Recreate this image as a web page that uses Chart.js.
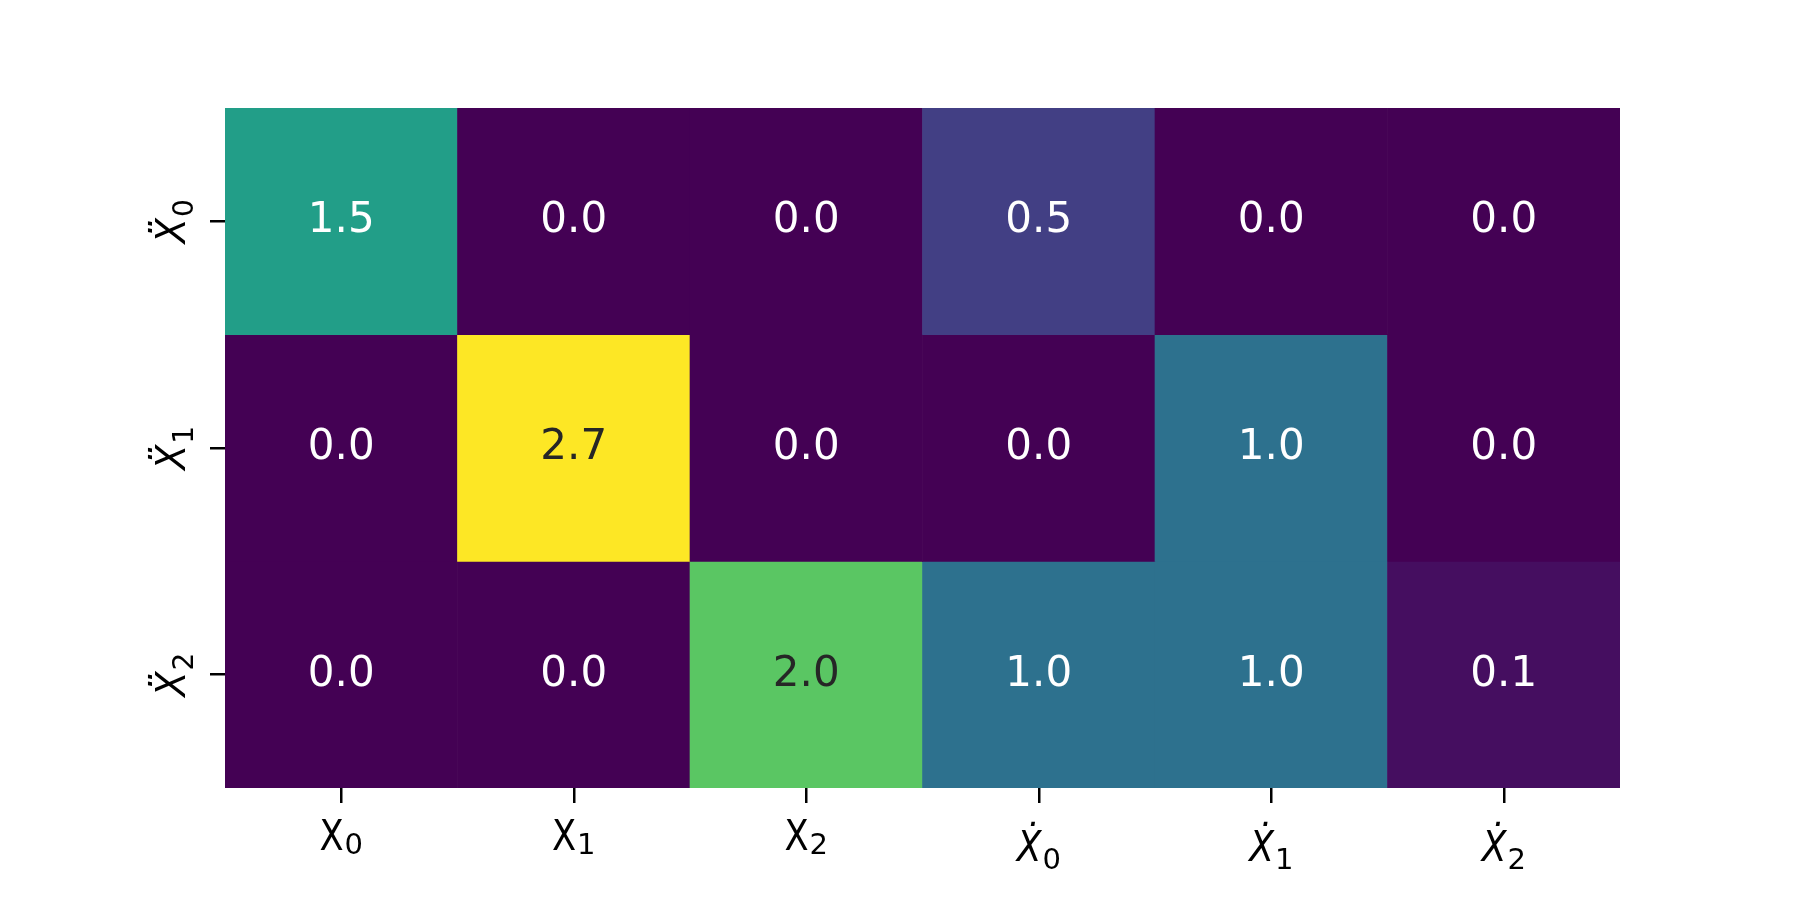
<!DOCTYPE html>
<html>
<head>
<meta charset="utf-8">
<script src="https://cdn.jsdelivr.net/npm/chart.js@4"></script>
<style>
  body { margin: 0; background: #fff; }
</style>
</head>
<body>
<canvas id="heatmap" width="1800" height="900"></canvas>
<script>
// column and row labels (base symbol + subscript)
const colLabels = ['X₀', 'X₁', 'X₂', 'Ẋ₀', 'Ẋ₁', 'Ẋ₂'];
const colBase = ['X', 'X', 'X', 'Ẋ', 'Ẋ', 'Ẋ'];
const colSub = ['0', '1', '2', '0', '1', '2'];
const rowLabels = ['Ẍ₀', 'Ẍ₁', 'Ẍ₂'];
const rowBase = ['Ẍ', 'Ẍ', 'Ẍ'];
const rowSub = ['0', '1', '2'];

// one array per row of the matrix
const rowX0dd = [1.5, 0.0, 0.0, 0.5, 0.0, 0.0];
const rowX1dd = [0.0, 2.7, 0.0, 0.0, 1.0, 0.0];
const rowX2dd = [0.0, 0.0, 2.0, 1.0, 1.0, 0.1];
const rows = [rowX0dd, rowX1dd, rowX2dd];

const vmin = 0;
const vmax = 2.7;

// viridis stops
const viridis = ['#440154', '#482475', '#414487', '#355f8d', '#2a788e', '#21918c',
                 '#22a884', '#44bf70', '#7ad151', '#bddf26', '#fde725'];

function hexToRgb(h) {
    return [parseInt(h.slice(1, 3), 16), parseInt(h.slice(3, 5), 16), parseInt(h.slice(5, 7), 16)];
}

function colorFor(v) {
    let t = (v - vmin) / (vmax - vmin);
    t = Math.max(0, Math.min(1, t));
    const pos = t * (viridis.length - 1);
    const i = Math.min(Math.floor(pos), viridis.length - 2);
    const f = pos - i;
    const a = hexToRgb(viridis[i]), b = hexToRgb(viridis[i + 1]);
    const c = a.map((x, k) => Math.round(x + (b[k] - x) * f));
    return 'rgb(' + c.join(',') + ')';
}

const FONT = '"DejaVu Sans"';

// draws base + subscript centred on x, baseline at y (current transform)
function drawSubLabel(ctx, x, y, parts) {
    let total = 0;
    parts.forEach(p => {
        ctx.font = p.font;
        p.w = ctx.measureText(p.text).width * p.sx;
        total += p.w + (p.gap || 0);
    });
    let cx = x - total / 2;
    parts.forEach(p => {
        cx += p.gap || 0;
        ctx.save();
        ctx.font = p.font;
        ctx.translate(cx, y + p.dy);
        ctx.scale(p.sx, 1);
        ctx.fillText(p.text, 0, 0);
        ctx.restore();
        cx += p.w;
    });
}

// text inside every cell
const cellText = {
    id: 'cellText',
    afterDatasetsDraw(chart) {
        const ctx = chart.ctx;
        ctx.save();
        ctx.font = '42px ' + FONT;
        ctx.textAlign = 'center';
        ctx.textBaseline = 'middle';
        chart.data.datasets.forEach((ds, di) => {
            chart.getDatasetMeta(di).data.forEach((bar, ci) => {
                const v = ds.values[ci];
                const t = (v - vmin) / (vmax - vmin);
                ctx.fillStyle = t > 0.6 ? '#262626' : '#ffffff';
                const p = bar.getCenterPoint();
                ctx.fillText(v.toFixed(1), p.x, p.y);
            });
        });
        ctx.restore();
    }
};

// axis labels with subscripts
const axisText = {
    id: 'axisText',
    afterDraw(chart) {
        const ctx = chart.ctx;
        const xs = chart.scales.x, ys = chart.scales.y;
        const bottom = chart.chartArea.bottom;
        ctx.save();
        ctx.fillStyle = '#000';
        ctx.textAlign = 'left';
        ctx.textBaseline = 'alphabetic';
        colBase.forEach((b, i) => {
            const px = xs.getPixelForValue(i);
            if (b === 'X') {
                drawSubLabel(ctx, px, bottom + 62, [
                    { text: b, font: '42px ' + FONT, sx: 0.84, dy: 0 },
                    { text: colSub[i], font: '29px ' + FONT, sx: 1, dy: 4, gap: 1 }
                ]);
            } else {
                drawSubLabel(ctx, px, bottom + 73, [
                    { text: b, font: 'italic 42px ' + FONT, sx: 0.86, dy: 0 },
                    { text: colSub[i], font: '29px ' + FONT, sx: 1, dy: 8, gap: 1 }
                ]);
            }
        });
        rowBase.forEach((b, i) => {
            ctx.save();
            ctx.translate(185, ys.getPixelForValue(i + 0.5));
            ctx.rotate(-Math.PI / 2);
            drawSubLabel(ctx, 0, 0, [
                { text: b, font: 'italic 41px ' + FONT, sx: 0.9, dy: 0 },
                { text: rowSub[i], font: '28px ' + FONT, sx: 1, dy: 8, gap: 1 }
            ]);
            ctx.restore();
        });
        ctx.restore();
    }
};

new Chart(document.getElementById('heatmap'), {
    type: 'bar',
    data: {
        labels: colLabels,
        datasets: rows.map((r, i) => ({
            label: rowLabels[i],
            data: r.map(() => 1),
            values: r,
            backgroundColor: r.map(colorFor),
            borderWidth: 0,
            barPercentage: 1,
            categoryPercentage: 1
        }))
    },
    options: {
        responsive: false,
        animation: false,
        layout: { padding: { left: 0, top: 108, right: 180, bottom: 0 } },
        plugins: {
            legend: { display: false },
            tooltip: { enabled: false }
        },
        scales: {
            x: {
                stacked: true,
                offset: true,
                border: { display: false },
                grid: { offset: false, drawOnChartArea: false, tickLength: 15, color: '#000', lineWidth: 2.5 },
                ticks: { display: false },
                afterFit: (s) => { s.height = 112; }
            },
            y: {
                stacked: true,
                reverse: true,
                min: 0,
                max: 3,
                border: { display: false },
                grid: { drawOnChartArea: false, tickLength: 15, color: '#000', lineWidth: 2.5 },
                ticks: { display: false },
                afterBuildTicks: (s) => { s.ticks = rowLabels.map((l, i) => ({ value: i + 0.5 })); },
                afterFit: (s) => { s.width = 225; }
            }
        }
    },
    plugins: [cellText, axisText]
});
</script>
</body>
</html>
